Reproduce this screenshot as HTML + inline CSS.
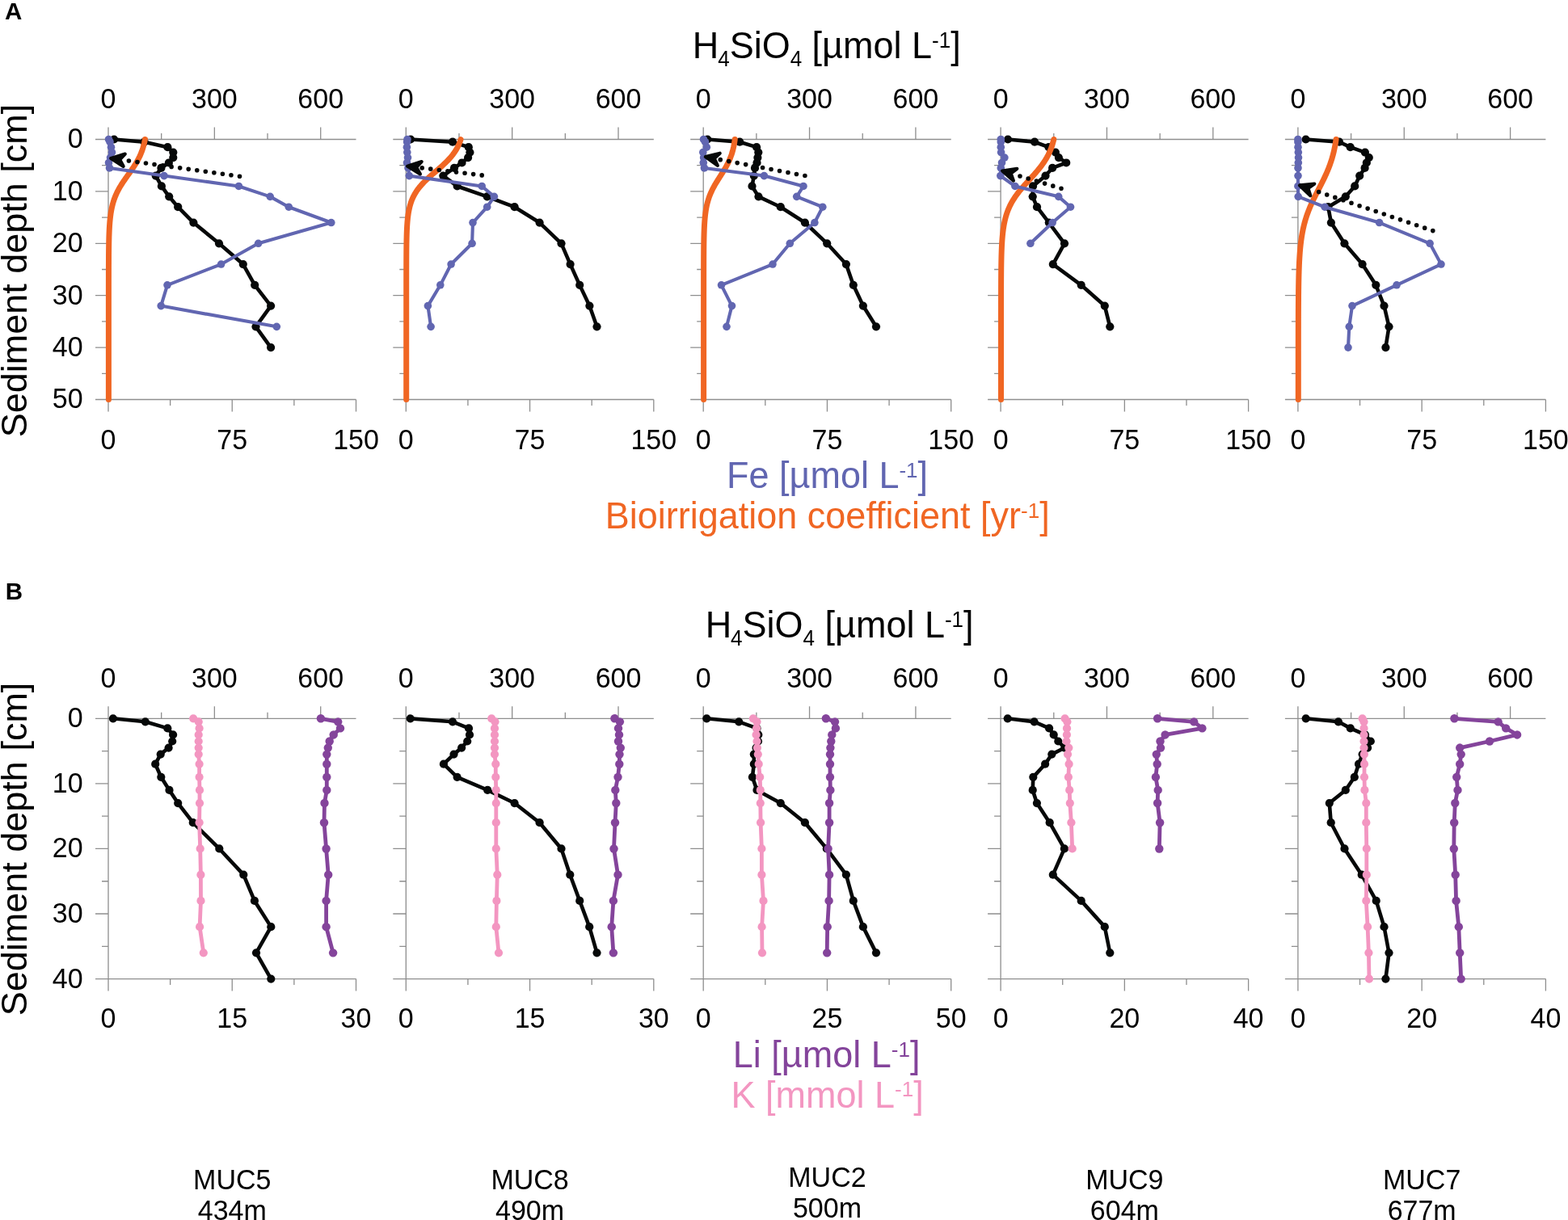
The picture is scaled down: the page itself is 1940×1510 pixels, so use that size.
<!DOCTYPE html>
<html><head><meta charset="utf-8"><title>Figure</title>
<style>html,body{margin:0;padding:0;background:#fff;width:1940px;height:1510px;overflow:hidden}svg{display:block}</style>
</head><body><svg width="1940" height="1510" viewBox="0 0 1940 1510" font-family="'Liberation Sans', Arial, sans-serif"><rect width="1940" height="1510" fill="#fff"/><text transform="translate(6 24) scale(1 1.03)" font-size="29.5" font-weight="bold">A</text><text transform="translate(6.7 742.4) scale(1 1.03)" font-size="29.5" font-weight="bold">B</text><text transform="translate(856.8 72.2) scale(1 1.04)" font-size="45">H<tspan font-size="26" dx="-1.1" dy="9.7">4</tspan><tspan dy="-9.7">SiO</tspan><tspan font-size="26" dy="9.7">4</tspan><tspan dy="-9.7"> [µmol L</tspan><tspan font-size="26" dy="-13.1">-1</tspan><tspan dy="13.1">]</tspan></text><text transform="translate(872.7 789.4) scale(1 1.04)" font-size="45">H<tspan font-size="26" dx="-1.1" dy="9.7">4</tspan><tspan dy="-9.7">SiO</tspan><tspan font-size="26" dy="9.7">4</tspan><tspan dy="-9.7"> [µmol L</tspan><tspan font-size="26" dy="-13.1">-1</tspan><tspan dy="13.1">]</tspan></text><text transform="translate(899 604.2) scale(1 1.015)" font-size="45" fill="#6166b1">Fe [µmol L<tspan font-size="26" dy="-13.1">-1</tspan><tspan dy="13.1">]</tspan></text><text transform="translate(748.8 654.1) scale(1 1.015)" font-size="45" fill="#f06623">Bioirrigation coefficient [yr<tspan font-size="26" dy="-13.1">-1</tspan><tspan dy="13.1">]</tspan></text><text transform="translate(906.8 1321.4) scale(1 1.015)" font-size="45" fill="#84449b">Li [µmol L<tspan font-size="26" dy="-13.1">-1</tspan><tspan dy="13.1">]</tspan></text><text transform="translate(904.5 1370.5) scale(1 1.015)" font-size="45" fill="#f396c1">K [mmol L<tspan font-size="26" dy="-13.1">-1</tspan><tspan dy="13.1">]</tspan></text><text transform="translate(33.2 335) rotate(-90) scale(1 0.99)" font-size="45" text-anchor="middle">Sediment depth [cm]</text><text transform="translate(33.2 1050.95) rotate(-90) scale(1 0.99)" font-size="45" text-anchor="middle">Sediment depth [cm]</text><path d="M118 172.5H440.5M118 494.5H440.5M134 172.5V494.5" stroke="#8e8e8e" stroke-width="1.3" fill="none"/><path d="M134 172.5V157.5M199.68 172.5V165M265.36 172.5V157.5M331.04 172.5V165M396.71 172.5V157.5M134 494.5V509.5M210.62 494.5V502M287.25 494.5V509.5M363.88 494.5V502M440.5 494.5V509.5M126 204.7H134M118 236.9H134M126 269.1H134M118 301.3H134M126 333.5H134M118 365.7H134M126 397.9H134M118 430.1H134M126 462.3H134" stroke="#8e8e8e" stroke-width="1.3" fill="none"/><text transform="translate(134 134.2) scale(1 1.03)" font-size="34" text-anchor="middle">0</text><text transform="translate(134 850.9) scale(1 1.03)" font-size="34" text-anchor="middle">0</text><text transform="translate(265.36 134.2) scale(1 1.03)" font-size="34" text-anchor="middle">300</text><text transform="translate(265.36 850.9) scale(1 1.03)" font-size="34" text-anchor="middle">300</text><text transform="translate(396.71 134.2) scale(1 1.03)" font-size="34" text-anchor="middle">600</text><text transform="translate(396.71 850.9) scale(1 1.03)" font-size="34" text-anchor="middle">600</text><text transform="translate(134 555.5) scale(1 1.03)" font-size="34" text-anchor="middle">0</text><text transform="translate(287.25 555.5) scale(1 1.03)" font-size="34" text-anchor="middle">75</text><text transform="translate(440.5 555.5) scale(1 1.03)" font-size="34" text-anchor="middle">150</text><text transform="translate(134 1272) scale(1 1.03)" font-size="34" text-anchor="middle">0</text><text transform="translate(287.25 1272) scale(1 1.03)" font-size="34" text-anchor="middle">15</text><text transform="translate(440.5 1272) scale(1 1.03)" font-size="34" text-anchor="middle">30</text><path d="M118 889.3H440.5M118 1211.6H440.5M134 889.3V1211.6" stroke="#8e8e8e" stroke-width="1.3" fill="none"/><path d="M134 889.3V874.3M199.68 889.3V881.8M265.36 889.3V874.3M331.04 889.3V881.8M396.71 889.3V874.3M134 1211.6V1226.6M210.62 1211.6V1219.1M287.25 1211.6V1226.6M363.88 1211.6V1219.1M440.5 1211.6V1226.6M126 929.59H134M118 969.88H134M126 1010.16H134M118 1050.45H134M126 1090.74H134M118 1131.02H134M126 1171.31H134" stroke="#8e8e8e" stroke-width="1.3" fill="none"/><path d="M486.3 172.5H808.8M486.3 494.5H808.8M502.3 172.5V494.5" stroke="#8e8e8e" stroke-width="1.3" fill="none"/><path d="M502.3 172.5V157.5M567.98 172.5V165M633.66 172.5V157.5M699.34 172.5V165M765.01 172.5V157.5M502.3 494.5V509.5M578.92 494.5V502M655.55 494.5V509.5M732.17 494.5V502M808.8 494.5V509.5M494.3 204.7H502.3M486.3 236.9H502.3M494.3 269.1H502.3M486.3 301.3H502.3M494.3 333.5H502.3M486.3 365.7H502.3M494.3 397.9H502.3M486.3 430.1H502.3M494.3 462.3H502.3" stroke="#8e8e8e" stroke-width="1.3" fill="none"/><text transform="translate(502.3 134.2) scale(1 1.03)" font-size="34" text-anchor="middle">0</text><text transform="translate(502.3 850.9) scale(1 1.03)" font-size="34" text-anchor="middle">0</text><text transform="translate(633.66 134.2) scale(1 1.03)" font-size="34" text-anchor="middle">300</text><text transform="translate(633.66 850.9) scale(1 1.03)" font-size="34" text-anchor="middle">300</text><text transform="translate(765.01 134.2) scale(1 1.03)" font-size="34" text-anchor="middle">600</text><text transform="translate(765.01 850.9) scale(1 1.03)" font-size="34" text-anchor="middle">600</text><text transform="translate(502.3 555.5) scale(1 1.03)" font-size="34" text-anchor="middle">0</text><text transform="translate(655.55 555.5) scale(1 1.03)" font-size="34" text-anchor="middle">75</text><text transform="translate(808.8 555.5) scale(1 1.03)" font-size="34" text-anchor="middle">150</text><text transform="translate(502.3 1272) scale(1 1.03)" font-size="34" text-anchor="middle">0</text><text transform="translate(655.55 1272) scale(1 1.03)" font-size="34" text-anchor="middle">15</text><text transform="translate(808.8 1272) scale(1 1.03)" font-size="34" text-anchor="middle">30</text><path d="M486.3 889.3H808.8M486.3 1211.6H808.8M502.3 889.3V1211.6" stroke="#8e8e8e" stroke-width="1.3" fill="none"/><path d="M502.3 889.3V874.3M567.98 889.3V881.8M633.66 889.3V874.3M699.34 889.3V881.8M765.01 889.3V874.3M502.3 1211.6V1226.6M578.92 1211.6V1219.1M655.55 1211.6V1226.6M732.17 1211.6V1219.1M808.8 1211.6V1226.6M494.3 929.59H502.3M486.3 969.88H502.3M494.3 1010.16H502.3M486.3 1050.45H502.3M494.3 1090.74H502.3M486.3 1131.02H502.3M494.3 1171.31H502.3" stroke="#8e8e8e" stroke-width="1.3" fill="none"/><path d="M854.2 172.5H1176.7M854.2 494.5H1176.7M870.2 172.5V494.5" stroke="#8e8e8e" stroke-width="1.3" fill="none"/><path d="M870.2 172.5V157.5M935.88 172.5V165M1001.56 172.5V157.5M1067.24 172.5V165M1132.91 172.5V157.5M870.2 494.5V509.5M946.83 494.5V502M1023.45 494.5V509.5M1100.08 494.5V502M1176.7 494.5V509.5M862.2 204.7H870.2M854.2 236.9H870.2M862.2 269.1H870.2M854.2 301.3H870.2M862.2 333.5H870.2M854.2 365.7H870.2M862.2 397.9H870.2M854.2 430.1H870.2M862.2 462.3H870.2" stroke="#8e8e8e" stroke-width="1.3" fill="none"/><text transform="translate(870.2 134.2) scale(1 1.03)" font-size="34" text-anchor="middle">0</text><text transform="translate(870.2 850.9) scale(1 1.03)" font-size="34" text-anchor="middle">0</text><text transform="translate(1001.56 134.2) scale(1 1.03)" font-size="34" text-anchor="middle">300</text><text transform="translate(1001.56 850.9) scale(1 1.03)" font-size="34" text-anchor="middle">300</text><text transform="translate(1132.91 134.2) scale(1 1.03)" font-size="34" text-anchor="middle">600</text><text transform="translate(1132.91 850.9) scale(1 1.03)" font-size="34" text-anchor="middle">600</text><text transform="translate(870.2 555.5) scale(1 1.03)" font-size="34" text-anchor="middle">0</text><text transform="translate(1023.45 555.5) scale(1 1.03)" font-size="34" text-anchor="middle">75</text><text transform="translate(1176.7 555.5) scale(1 1.03)" font-size="34" text-anchor="middle">150</text><text transform="translate(870.2 1272) scale(1 1.03)" font-size="34" text-anchor="middle">0</text><text transform="translate(1023.45 1272) scale(1 1.03)" font-size="34" text-anchor="middle">25</text><text transform="translate(1176.7 1272) scale(1 1.03)" font-size="34" text-anchor="middle">50</text><path d="M854.2 889.3H1176.7M854.2 1211.6H1176.7M870.2 889.3V1211.6" stroke="#8e8e8e" stroke-width="1.3" fill="none"/><path d="M870.2 889.3V874.3M935.88 889.3V881.8M1001.56 889.3V874.3M1067.24 889.3V881.8M1132.91 889.3V874.3M870.2 1211.6V1226.6M946.83 1211.6V1219.1M1023.45 1211.6V1226.6M1100.08 1211.6V1219.1M1176.7 1211.6V1226.6M862.2 929.59H870.2M854.2 969.88H870.2M862.2 1010.16H870.2M854.2 1050.45H870.2M862.2 1090.74H870.2M854.2 1131.02H870.2M862.2 1171.31H870.2" stroke="#8e8e8e" stroke-width="1.3" fill="none"/><path d="M1222.1 172.5H1544.6M1222.1 494.5H1544.6M1238.1 172.5V494.5" stroke="#8e8e8e" stroke-width="1.3" fill="none"/><path d="M1238.1 172.5V157.5M1303.78 172.5V165M1369.46 172.5V157.5M1435.14 172.5V165M1500.81 172.5V157.5M1238.1 494.5V509.5M1314.72 494.5V502M1391.35 494.5V509.5M1467.97 494.5V502M1544.6 494.5V509.5M1230.1 204.7H1238.1M1222.1 236.9H1238.1M1230.1 269.1H1238.1M1222.1 301.3H1238.1M1230.1 333.5H1238.1M1222.1 365.7H1238.1M1230.1 397.9H1238.1M1222.1 430.1H1238.1M1230.1 462.3H1238.1" stroke="#8e8e8e" stroke-width="1.3" fill="none"/><text transform="translate(1238.1 134.2) scale(1 1.03)" font-size="34" text-anchor="middle">0</text><text transform="translate(1238.1 850.9) scale(1 1.03)" font-size="34" text-anchor="middle">0</text><text transform="translate(1369.46 134.2) scale(1 1.03)" font-size="34" text-anchor="middle">300</text><text transform="translate(1369.46 850.9) scale(1 1.03)" font-size="34" text-anchor="middle">300</text><text transform="translate(1500.81 134.2) scale(1 1.03)" font-size="34" text-anchor="middle">600</text><text transform="translate(1500.81 850.9) scale(1 1.03)" font-size="34" text-anchor="middle">600</text><text transform="translate(1238.1 555.5) scale(1 1.03)" font-size="34" text-anchor="middle">0</text><text transform="translate(1391.35 555.5) scale(1 1.03)" font-size="34" text-anchor="middle">75</text><text transform="translate(1544.6 555.5) scale(1 1.03)" font-size="34" text-anchor="middle">150</text><text transform="translate(1238.1 1272) scale(1 1.03)" font-size="34" text-anchor="middle">0</text><text transform="translate(1391.35 1272) scale(1 1.03)" font-size="34" text-anchor="middle">20</text><text transform="translate(1544.6 1272) scale(1 1.03)" font-size="34" text-anchor="middle">40</text><path d="M1222.1 889.3H1544.6M1222.1 1211.6H1544.6M1238.1 889.3V1211.6" stroke="#8e8e8e" stroke-width="1.3" fill="none"/><path d="M1238.1 889.3V874.3M1303.78 889.3V881.8M1369.46 889.3V874.3M1435.14 889.3V881.8M1500.81 889.3V874.3M1238.1 1211.6V1226.6M1314.72 1211.6V1219.1M1391.35 1211.6V1226.6M1467.97 1211.6V1219.1M1544.6 1211.6V1226.6M1230.1 929.59H1238.1M1222.1 969.88H1238.1M1230.1 1010.16H1238.1M1222.1 1050.45H1238.1M1230.1 1090.74H1238.1M1222.1 1131.02H1238.1M1230.1 1171.31H1238.1" stroke="#8e8e8e" stroke-width="1.3" fill="none"/><path d="M1589.9 172.5H1912.4M1589.9 494.5H1912.4M1605.9 172.5V494.5" stroke="#8e8e8e" stroke-width="1.3" fill="none"/><path d="M1605.9 172.5V157.5M1671.58 172.5V165M1737.26 172.5V157.5M1802.94 172.5V165M1868.61 172.5V157.5M1605.9 494.5V509.5M1682.53 494.5V502M1759.15 494.5V509.5M1835.78 494.5V502M1912.4 494.5V509.5M1597.9 204.7H1605.9M1589.9 236.9H1605.9M1597.9 269.1H1605.9M1589.9 301.3H1605.9M1597.9 333.5H1605.9M1589.9 365.7H1605.9M1597.9 397.9H1605.9M1589.9 430.1H1605.9M1597.9 462.3H1605.9" stroke="#8e8e8e" stroke-width="1.3" fill="none"/><text transform="translate(1605.9 134.2) scale(1 1.03)" font-size="34" text-anchor="middle">0</text><text transform="translate(1605.9 850.9) scale(1 1.03)" font-size="34" text-anchor="middle">0</text><text transform="translate(1737.26 134.2) scale(1 1.03)" font-size="34" text-anchor="middle">300</text><text transform="translate(1737.26 850.9) scale(1 1.03)" font-size="34" text-anchor="middle">300</text><text transform="translate(1868.61 134.2) scale(1 1.03)" font-size="34" text-anchor="middle">600</text><text transform="translate(1868.61 850.9) scale(1 1.03)" font-size="34" text-anchor="middle">600</text><text transform="translate(1605.9 555.5) scale(1 1.03)" font-size="34" text-anchor="middle">0</text><text transform="translate(1759.15 555.5) scale(1 1.03)" font-size="34" text-anchor="middle">75</text><text transform="translate(1912.4 555.5) scale(1 1.03)" font-size="34" text-anchor="middle">150</text><text transform="translate(1605.9 1272) scale(1 1.03)" font-size="34" text-anchor="middle">0</text><text transform="translate(1759.15 1272) scale(1 1.03)" font-size="34" text-anchor="middle">20</text><text transform="translate(1912.4 1272) scale(1 1.03)" font-size="34" text-anchor="middle">40</text><path d="M1589.9 889.3H1912.4M1589.9 1211.6H1912.4M1605.9 889.3V1211.6" stroke="#8e8e8e" stroke-width="1.3" fill="none"/><path d="M1605.9 889.3V874.3M1671.58 889.3V881.8M1737.26 889.3V874.3M1802.94 889.3V881.8M1868.61 889.3V874.3M1605.9 1211.6V1226.6M1682.53 1211.6V1219.1M1759.15 1211.6V1226.6M1835.78 1211.6V1219.1M1912.4 1211.6V1226.6M1597.9 929.59H1605.9M1589.9 969.88H1605.9M1597.9 1010.16H1605.9M1589.9 1050.45H1605.9M1597.9 1090.74H1605.9M1589.9 1131.02H1605.9M1597.9 1171.31H1605.9" stroke="#8e8e8e" stroke-width="1.3" fill="none"/><text transform="translate(102.6 183.4) scale(1 1.03)" font-size="34" text-anchor="end">0</text><text transform="translate(102.6 247.8) scale(1 1.03)" font-size="34" text-anchor="end">10</text><text transform="translate(102.6 312.2) scale(1 1.03)" font-size="34" text-anchor="end">20</text><text transform="translate(102.6 376.6) scale(1 1.03)" font-size="34" text-anchor="end">30</text><text transform="translate(102.6 441) scale(1 1.03)" font-size="34" text-anchor="end">40</text><text transform="translate(102.6 505.4) scale(1 1.03)" font-size="34" text-anchor="end">50</text><text transform="translate(102.6 900.2) scale(1 1.03)" font-size="34" text-anchor="end">0</text><text transform="translate(102.6 980.77) scale(1 1.03)" font-size="34" text-anchor="end">10</text><text transform="translate(102.6 1061.35) scale(1 1.03)" font-size="34" text-anchor="end">20</text><text transform="translate(102.6 1141.92) scale(1 1.03)" font-size="34" text-anchor="end">30</text><text transform="translate(102.6 1222.5) scale(1 1.03)" font-size="34" text-anchor="end">40</text><path d="M141.1 172.5L178.6 175.72L207.4 182.16L214.3 188.6L214.3 195.04L208.9 201.48L199.4 207.92L192.7 217.58L199.9 230.46L209.2 243.34L220.2 256.22L239.4 275.54L271 301.3L300.8 327.06L315.2 352.82L335.1 378.58L316.5 404.34L335.1 430.1" stroke="#060808" stroke-width="4.6" fill="none" stroke-linejoin="round" stroke-linecap="round"/><g fill="#060808"><circle cx="141.1" cy="172.5" r="5.1"/><circle cx="178.6" cy="175.72" r="5.1"/><circle cx="207.4" cy="182.16" r="5.1"/><circle cx="214.3" cy="188.6" r="5.1"/><circle cx="214.3" cy="195.04" r="5.1"/><circle cx="208.9" cy="201.48" r="5.1"/><circle cx="199.4" cy="207.92" r="5.1"/><circle cx="192.7" cy="217.58" r="5.1"/><circle cx="199.9" cy="230.46" r="5.1"/><circle cx="209.2" cy="243.34" r="5.1"/><circle cx="220.2" cy="256.22" r="5.1"/><circle cx="239.4" cy="275.54" r="5.1"/><circle cx="271" cy="301.3" r="5.1"/><circle cx="300.8" cy="327.06" r="5.1"/><circle cx="315.2" cy="352.82" r="5.1"/><circle cx="335.1" cy="378.58" r="5.1"/><circle cx="316.5" cy="404.34" r="5.1"/><circle cx="335.1" cy="430.1" r="5.1"/></g><path d="M508 172.5L560 175.72L579.8 182.16L581.4 188.6L579.1 195.04L571.5 201.48L562 207.92L548.3 217.58L565.7 230.46L602.7 243.34L636.6 256.22L667.6 275.54L694.5 301.3L705.6 327.06L717.2 352.82L729.4 378.58L738.5 404.34" stroke="#060808" stroke-width="4.6" fill="none" stroke-linejoin="round" stroke-linecap="round"/><g fill="#060808"><circle cx="508" cy="172.5" r="5.1"/><circle cx="560" cy="175.72" r="5.1"/><circle cx="579.8" cy="182.16" r="5.1"/><circle cx="581.4" cy="188.6" r="5.1"/><circle cx="579.1" cy="195.04" r="5.1"/><circle cx="571.5" cy="201.48" r="5.1"/><circle cx="562" cy="207.92" r="5.1"/><circle cx="548.3" cy="217.58" r="5.1"/><circle cx="565.7" cy="230.46" r="5.1"/><circle cx="602.7" cy="243.34" r="5.1"/><circle cx="636.6" cy="256.22" r="5.1"/><circle cx="667.6" cy="275.54" r="5.1"/><circle cx="694.5" cy="301.3" r="5.1"/><circle cx="705.6" cy="327.06" r="5.1"/><circle cx="717.2" cy="352.82" r="5.1"/><circle cx="729.4" cy="378.58" r="5.1"/><circle cx="738.5" cy="404.34" r="5.1"/></g><path d="M875.3 172.5L915.2 175.72L936.1 182.16L938.3 188.6L937.4 195.04L936.5 201.48L934 207.92L932.8 217.58L930.5 230.46L938.5 243.34L965.8 256.22L995.9 275.54L1023.2 301.3L1046.9 327.06L1055.8 352.82L1067.9 378.58L1084 404.34" stroke="#060808" stroke-width="4.6" fill="none" stroke-linejoin="round" stroke-linecap="round"/><g fill="#060808"><circle cx="875.3" cy="172.5" r="5.1"/><circle cx="915.2" cy="175.72" r="5.1"/><circle cx="936.1" cy="182.16" r="5.1"/><circle cx="938.3" cy="188.6" r="5.1"/><circle cx="937.4" cy="195.04" r="5.1"/><circle cx="936.5" cy="201.48" r="5.1"/><circle cx="934" cy="207.92" r="5.1"/><circle cx="932.8" cy="217.58" r="5.1"/><circle cx="930.5" cy="230.46" r="5.1"/><circle cx="938.5" cy="243.34" r="5.1"/><circle cx="965.8" cy="256.22" r="5.1"/><circle cx="995.9" cy="275.54" r="5.1"/><circle cx="1023.2" cy="301.3" r="5.1"/><circle cx="1046.9" cy="327.06" r="5.1"/><circle cx="1055.8" cy="352.82" r="5.1"/><circle cx="1067.9" cy="378.58" r="5.1"/><circle cx="1084" cy="404.34" r="5.1"/></g><path d="M1247 172.5L1280.1 175.72L1297.5 182.16L1305.9 188.6L1309.9 195.04L1319.2 201.48L1302.1 207.92L1293.5 217.58L1278 230.46L1277.7 243.34L1283 256.22L1297.8 275.54L1317 301.3L1302.8 327.06L1337.7 352.82L1366.8 378.58L1373.3 404.34" stroke="#060808" stroke-width="4.6" fill="none" stroke-linejoin="round" stroke-linecap="round"/><g fill="#060808"><circle cx="1247" cy="172.5" r="5.1"/><circle cx="1280.1" cy="175.72" r="5.1"/><circle cx="1297.5" cy="182.16" r="5.1"/><circle cx="1305.9" cy="188.6" r="5.1"/><circle cx="1309.9" cy="195.04" r="5.1"/><circle cx="1319.2" cy="201.48" r="5.1"/><circle cx="1302.1" cy="207.92" r="5.1"/><circle cx="1293.5" cy="217.58" r="5.1"/><circle cx="1278" cy="230.46" r="5.1"/><circle cx="1277.7" cy="243.34" r="5.1"/><circle cx="1283" cy="256.22" r="5.1"/><circle cx="1297.8" cy="275.54" r="5.1"/><circle cx="1317" cy="301.3" r="5.1"/><circle cx="1302.8" cy="327.06" r="5.1"/><circle cx="1337.7" cy="352.82" r="5.1"/><circle cx="1366.8" cy="378.58" r="5.1"/><circle cx="1373.3" cy="404.34" r="5.1"/></g><path d="M1615.6 172.5L1657 175.72L1670.7 182.16L1688.9 188.6L1693.8 195.04L1690.8 201.48L1688.6 207.92L1682.2 217.58L1676.2 230.46L1664.8 243.34L1643.3 256.22L1646.9 275.54L1663.4 301.3L1685.6 327.06L1702.3 352.82L1712.5 378.58L1718.5 404.34L1714.4 430.1" stroke="#060808" stroke-width="4.6" fill="none" stroke-linejoin="round" stroke-linecap="round"/><g fill="#060808"><circle cx="1615.6" cy="172.5" r="5.1"/><circle cx="1657" cy="175.72" r="5.1"/><circle cx="1670.7" cy="182.16" r="5.1"/><circle cx="1688.9" cy="188.6" r="5.1"/><circle cx="1693.8" cy="195.04" r="5.1"/><circle cx="1690.8" cy="201.48" r="5.1"/><circle cx="1688.6" cy="207.92" r="5.1"/><circle cx="1682.2" cy="217.58" r="5.1"/><circle cx="1676.2" cy="230.46" r="5.1"/><circle cx="1664.8" cy="243.34" r="5.1"/><circle cx="1643.3" cy="256.22" r="5.1"/><circle cx="1646.9" cy="275.54" r="5.1"/><circle cx="1663.4" cy="301.3" r="5.1"/><circle cx="1685.6" cy="327.06" r="5.1"/><circle cx="1702.3" cy="352.82" r="5.1"/><circle cx="1712.5" cy="378.58" r="5.1"/><circle cx="1718.5" cy="404.34" r="5.1"/><circle cx="1714.4" cy="430.1" r="5.1"/></g><path d="M179.44 172.50L179.13 174.11L178.79 175.72L178.43 177.33L178.03 178.94L177.60 180.55L177.14 182.16L176.65 183.77L176.12 185.38L175.55 186.99L174.94 188.60L174.29 190.21L173.60 191.82L172.87 193.43L172.09 195.04L171.28 196.65L170.42 198.26L169.52 199.87L168.58 201.48L167.61 203.09L166.59 204.70L165.55 206.31L164.48 207.92L163.38 209.53L162.26 211.14L161.13 212.75L159.98 214.36L158.83 215.97L157.68 217.58L156.53 219.19L155.39 220.80L154.27 222.41L153.16 224.02L152.08 225.63L151.02 227.24L150.00 228.85L149.01 230.46L148.06 232.07L147.14 233.68L146.27 235.29L145.43 236.90L144.64 238.51L143.90 240.12L143.19 241.73L142.52 243.34L141.90 244.95L141.32 246.56L140.77 248.17L140.26 249.78L139.79 251.39L139.35 253.00L138.94 254.61L138.56 256.22L138.22 257.83L137.89 259.44L137.60 261.05L137.32 262.66L137.07 264.27L136.84 265.88L136.63 267.49L136.44 269.10L136.26 270.71L136.10 272.32L135.95 273.93L135.81 275.54L135.69 277.15L135.57 278.76L135.47 280.37L135.37 281.98L135.29 283.59L135.21 285.20L135.13 286.81L135.07 288.42L135.01 290.03L134.95 291.64L134.90 293.25L134.86 294.86L134.82 296.47L134.78 298.08L134.75 299.69L134.71 301.30L134.69 302.91L134.66 304.52L134.64 306.13L134.62 307.74L134.60 309.35L134.58 310.96L134.56 312.57L134.55 314.18L134.53 315.79L134.52 317.40L134.51 319.01L134.50 320.62L134.49 322.23L134.48 323.84L134.48 325.45L134.47 327.06L134.46 328.67L134.46 330.28L134.45 331.89L134.45 333.50L134.44 335.11L134.44 336.72L134.44 338.33L134.43 339.94L134.43 341.55L134.43 343.16L134.42 344.77L134.42 346.38L134.42 347.99L134.42 349.60L134.42 351.21L134.41 352.82L134.41 354.43L134.41 356.04L134.41 357.65L134.41 359.26L134.41 360.87L134.41 362.48L134.41 364.09L134.41 365.70L134.41 367.31L134.41 368.92L134.41 370.53L134.40 372.14L134.40 373.75L134.40 375.36L134.40 376.97L134.40 378.58L134.40 380.19L134.40 381.80L134.40 383.41L134.40 385.02L134.40 386.63L134.40 388.24L134.40 389.85L134.40 391.46L134.40 393.07L134.40 394.68L134.40 396.29L134.40 397.90L134.40 399.51L134.40 401.12L134.40 402.73L134.40 404.34L134.40 405.95L134.40 407.56L134.40 409.17L134.40 410.78L134.40 412.39L134.40 414.00L134.40 415.61L134.40 417.22L134.40 418.83L134.40 420.44L134.40 422.05L134.40 423.66L134.40 425.27L134.40 426.88L134.40 428.49L134.40 430.10L134.40 431.71L134.40 433.32L134.40 434.93L134.40 436.54L134.40 438.15L134.40 439.76L134.40 441.37L134.40 442.98L134.40 444.59L134.40 446.20L134.40 447.81L134.40 449.42L134.40 451.03L134.40 452.64L134.40 454.25L134.40 455.86L134.40 457.47L134.40 459.08L134.40 460.69L134.40 462.30L134.40 463.91L134.40 465.52L134.40 467.13L134.40 468.74L134.40 470.35L134.40 471.96L134.40 473.57L134.40 475.18L134.40 476.79L134.40 478.40L134.40 480.01L134.40 481.62L134.40 483.23L134.40 484.84L134.40 486.45L134.40 488.06L134.40 489.67L134.40 491.28L134.40 492.89L134.40 494.50" stroke="#f06623" stroke-width="7" fill="none" stroke-linecap="round" stroke-linejoin="round"/><path d="M570.05 172.50L569.53 174.11L568.95 175.72L568.32 177.33L567.64 178.94L566.91 180.55L566.11 182.16L565.25 183.77L564.32 185.38L563.32 186.99L562.25 188.60L561.11 190.21L559.90 191.82L558.61 193.43L557.25 195.04L555.81 196.65L554.31 198.26L552.74 199.87L551.10 201.48L549.41 203.09L547.67 204.70L545.89 206.31L544.07 207.92L542.23 209.53L540.36 211.14L538.49 212.75L536.63 214.36L534.77 215.97L532.94 217.58L531.14 219.19L529.38 220.80L527.67 222.41L526.01 224.02L524.41 225.63L522.88 227.24L521.41 228.85L520.02 230.46L518.70 232.07L517.45 233.68L516.27 235.29L515.17 236.90L514.15 238.51L513.19 240.12L512.30 241.73L511.47 243.34L510.71 244.95L510.00 246.56L509.35 248.17L508.76 249.78L508.21 251.39L507.71 253.00L507.25 254.61L506.83 256.22L506.45 257.83L506.10 259.44L505.78 261.05L505.49 262.66L505.23 264.27L504.99 265.88L504.77 267.49L504.57 269.10L504.39 270.71L504.23 272.32L504.08 273.93L503.95 275.54L503.83 277.15L503.72 278.76L503.62 280.37L503.53 281.98L503.45 283.59L503.38 285.20L503.31 286.81L503.25 288.42L503.20 290.03L503.15 291.64L503.11 293.25L503.07 294.86L503.03 296.47L503.00 298.08L502.97 299.69L502.94 301.30L502.92 302.91L502.90 304.52L502.88 306.13L502.86 307.74L502.85 309.35L502.83 310.96L502.82 312.57L502.81 314.18L502.80 315.79L502.79 317.40L502.78 319.01L502.77 320.62L502.76 322.23L502.76 323.84L502.75 325.45L502.75 327.06L502.74 328.67L502.74 330.28L502.73 331.89L502.73 333.50L502.73 335.11L502.73 336.72L502.72 338.33L502.72 339.94L502.72 341.55L502.72 343.16L502.72 344.77L502.71 346.38L502.71 347.99L502.71 349.60L502.71 351.21L502.71 352.82L502.71 354.43L502.71 356.04L502.71 357.65L502.71 359.26L502.71 360.87L502.70 362.48L502.70 364.09L502.70 365.70L502.70 367.31L502.70 368.92L502.70 370.53L502.70 372.14L502.70 373.75L502.70 375.36L502.70 376.97L502.70 378.58L502.70 380.19L502.70 381.80L502.70 383.41L502.70 385.02L502.70 386.63L502.70 388.24L502.70 389.85L502.70 391.46L502.70 393.07L502.70 394.68L502.70 396.29L502.70 397.90L502.70 399.51L502.70 401.12L502.70 402.73L502.70 404.34L502.70 405.95L502.70 407.56L502.70 409.17L502.70 410.78L502.70 412.39L502.70 414.00L502.70 415.61L502.70 417.22L502.70 418.83L502.70 420.44L502.70 422.05L502.70 423.66L502.70 425.27L502.70 426.88L502.70 428.49L502.70 430.10L502.70 431.71L502.70 433.32L502.70 434.93L502.70 436.54L502.70 438.15L502.70 439.76L502.70 441.37L502.70 442.98L502.70 444.59L502.70 446.20L502.70 447.81L502.70 449.42L502.70 451.03L502.70 452.64L502.70 454.25L502.70 455.86L502.70 457.47L502.70 459.08L502.70 460.69L502.70 462.30L502.70 463.91L502.70 465.52L502.70 467.13L502.70 468.74L502.70 470.35L502.70 471.96L502.70 473.57L502.70 475.18L502.70 476.79L502.70 478.40L502.70 480.01L502.70 481.62L502.70 483.23L502.70 484.84L502.70 486.45L502.70 488.06L502.70 489.67L502.70 491.28L502.70 492.89L502.70 494.50" stroke="#f06623" stroke-width="7" fill="none" stroke-linecap="round" stroke-linejoin="round"/><path d="M909.23 172.50L909.02 174.11L908.78 175.72L908.52 177.33L908.23 178.94L907.92 180.55L907.59 182.16L907.22 183.77L906.83 185.38L906.40 186.99L905.94 188.60L905.44 190.21L904.91 191.82L904.33 193.43L903.72 195.04L903.07 196.65L902.38 198.26L901.65 199.87L900.88 201.48L900.07 203.09L899.23 204.70L898.35 206.31L897.44 207.92L896.49 209.53L895.52 211.14L894.53 212.75L893.53 214.36L892.51 215.97L891.48 217.58L890.45 219.19L889.42 220.80L888.40 222.41L887.39 224.02L886.40 225.63L885.44 227.24L884.50 228.85L883.59 230.46L882.71 232.07L881.87 233.68L881.06 235.29L880.30 236.90L879.57 238.51L878.88 240.12L878.24 241.73L877.63 243.34L877.06 244.95L876.53 246.56L876.04 248.17L875.58 249.78L875.15 251.39L874.76 253.00L874.40 254.61L874.06 256.22L873.76 257.83L873.47 259.44L873.22 261.05L872.98 262.66L872.76 264.27L872.56 265.88L872.38 267.49L872.22 269.10L872.07 270.71L871.93 272.32L871.81 273.93L871.70 275.54L871.59 277.15L871.50 278.76L871.42 280.37L871.34 281.98L871.27 283.59L871.21 285.20L871.15 286.81L871.10 288.42L871.05 290.03L871.01 291.64L870.97 293.25L870.93 294.86L870.90 296.47L870.87 298.08L870.85 299.69L870.82 301.30L870.80 302.91L870.78 304.52L870.76 306.13L870.75 307.74L870.73 309.35L870.72 310.96L870.71 312.57L870.70 314.18L870.69 315.79L870.68 317.40L870.67 319.01L870.67 320.62L870.66 322.23L870.65 323.84L870.65 325.45L870.64 327.06L870.64 328.67L870.64 330.28L870.63 331.89L870.63 333.50L870.63 335.11L870.62 336.72L870.62 338.33L870.62 339.94L870.62 341.55L870.62 343.16L870.61 344.77L870.61 346.38L870.61 347.99L870.61 349.60L870.61 351.21L870.61 352.82L870.61 354.43L870.61 356.04L870.61 357.65L870.61 359.26L870.61 360.87L870.60 362.48L870.60 364.09L870.60 365.70L870.60 367.31L870.60 368.92L870.60 370.53L870.60 372.14L870.60 373.75L870.60 375.36L870.60 376.97L870.60 378.58L870.60 380.19L870.60 381.80L870.60 383.41L870.60 385.02L870.60 386.63L870.60 388.24L870.60 389.85L870.60 391.46L870.60 393.07L870.60 394.68L870.60 396.29L870.60 397.90L870.60 399.51L870.60 401.12L870.60 402.73L870.60 404.34L870.60 405.95L870.60 407.56L870.60 409.17L870.60 410.78L870.60 412.39L870.60 414.00L870.60 415.61L870.60 417.22L870.60 418.83L870.60 420.44L870.60 422.05L870.60 423.66L870.60 425.27L870.60 426.88L870.60 428.49L870.60 430.10L870.60 431.71L870.60 433.32L870.60 434.93L870.60 436.54L870.60 438.15L870.60 439.76L870.60 441.37L870.60 442.98L870.60 444.59L870.60 446.20L870.60 447.81L870.60 449.42L870.60 451.03L870.60 452.64L870.60 454.25L870.60 455.86L870.60 457.47L870.60 459.08L870.60 460.69L870.60 462.30L870.60 463.91L870.60 465.52L870.60 467.13L870.60 468.74L870.60 470.35L870.60 471.96L870.60 473.57L870.60 475.18L870.60 476.79L870.60 478.40L870.60 480.01L870.60 481.62L870.60 483.23L870.60 484.84L870.60 486.45L870.60 488.06L870.60 489.67L870.60 491.28L870.60 492.89L870.60 494.50" stroke="#f06623" stroke-width="7" fill="none" stroke-linecap="round" stroke-linejoin="round"/><path d="M1303.79 172.50L1303.40 174.11L1302.98 175.72L1302.54 177.33L1302.06 178.94L1301.54 180.55L1300.99 182.16L1300.41 183.77L1299.78 185.38L1299.11 186.99L1298.41 188.60L1297.65 190.21L1296.86 191.82L1296.01 193.43L1295.13 195.04L1294.19 196.65L1293.20 198.26L1292.17 199.87L1291.09 201.48L1289.97 203.09L1288.80 204.70L1287.59 206.31L1286.33 207.92L1285.04 209.53L1283.71 211.14L1282.34 212.75L1280.95 214.36L1279.53 215.97L1278.10 217.58L1276.64 219.19L1275.18 220.80L1273.71 222.41L1272.24 224.02L1270.77 225.63L1269.32 227.24L1267.87 228.85L1266.45 230.46L1265.05 232.07L1263.68 233.68L1262.35 235.29L1261.04 236.90L1259.78 238.51L1258.55 240.12L1257.37 241.73L1256.24 243.34L1255.15 244.95L1254.11 246.56L1253.11 248.17L1252.16 249.78L1251.26 251.39L1250.41 253.00L1249.60 254.61L1248.84 256.22L1248.12 257.83L1247.45 259.44L1246.81 261.05L1246.22 262.66L1245.66 264.27L1245.14 265.88L1244.65 267.49L1244.19 269.10L1243.77 270.71L1243.37 272.32L1243.01 273.93L1242.67 275.54L1242.35 277.15L1242.05 278.76L1241.78 280.37L1241.53 281.98L1241.29 283.59L1241.08 285.20L1240.88 286.81L1240.69 288.42L1240.52 290.03L1240.36 291.64L1240.22 293.25L1240.08 294.86L1239.96 296.47L1239.84 298.08L1239.73 299.69L1239.64 301.30L1239.55 302.91L1239.46 304.52L1239.39 306.13L1239.32 307.74L1239.25 309.35L1239.19 310.96L1239.14 312.57L1239.09 314.18L1239.04 315.79L1239.00 317.40L1238.96 319.01L1238.92 320.62L1238.89 322.23L1238.85 323.84L1238.83 325.45L1238.80 327.06L1238.78 328.67L1238.75 330.28L1238.73 331.89L1238.71 333.50L1238.70 335.11L1238.68 336.72L1238.67 338.33L1238.65 339.94L1238.64 341.55L1238.63 343.16L1238.62 344.77L1238.61 346.38L1238.60 347.99L1238.59 349.60L1238.59 351.21L1238.58 352.82L1238.57 354.43L1238.57 356.04L1238.56 357.65L1238.56 359.26L1238.55 360.87L1238.55 362.48L1238.54 364.09L1238.54 365.70L1238.54 367.31L1238.53 368.92L1238.53 370.53L1238.53 372.14L1238.53 373.75L1238.52 375.36L1238.52 376.97L1238.52 378.58L1238.52 380.19L1238.52 381.80L1238.52 383.41L1238.51 385.02L1238.51 386.63L1238.51 388.24L1238.51 389.85L1238.51 391.46L1238.51 393.07L1238.51 394.68L1238.51 396.29L1238.51 397.90L1238.51 399.51L1238.51 401.12L1238.51 402.73L1238.51 404.34L1238.50 405.95L1238.50 407.56L1238.50 409.17L1238.50 410.78L1238.50 412.39L1238.50 414.00L1238.50 415.61L1238.50 417.22L1238.50 418.83L1238.50 420.44L1238.50 422.05L1238.50 423.66L1238.50 425.27L1238.50 426.88L1238.50 428.49L1238.50 430.10L1238.50 431.71L1238.50 433.32L1238.50 434.93L1238.50 436.54L1238.50 438.15L1238.50 439.76L1238.50 441.37L1238.50 442.98L1238.50 444.59L1238.50 446.20L1238.50 447.81L1238.50 449.42L1238.50 451.03L1238.50 452.64L1238.50 454.25L1238.50 455.86L1238.50 457.47L1238.50 459.08L1238.50 460.69L1238.50 462.30L1238.50 463.91L1238.50 465.52L1238.50 467.13L1238.50 468.74L1238.50 470.35L1238.50 471.96L1238.50 473.57L1238.50 475.18L1238.50 476.79L1238.50 478.40L1238.50 480.01L1238.50 481.62L1238.50 483.23L1238.50 484.84L1238.50 486.45L1238.50 488.06L1238.50 489.67L1238.50 491.28L1238.50 492.89L1238.50 494.50" stroke="#f06623" stroke-width="7" fill="none" stroke-linecap="round" stroke-linejoin="round"/><path d="M1653.07 172.50L1652.83 174.11L1652.58 175.72L1652.32 177.33L1652.04 178.94L1651.74 180.55L1651.43 182.16L1651.10 183.77L1650.76 185.38L1650.40 186.99L1650.02 188.60L1649.62 190.21L1649.20 191.82L1648.77 193.43L1648.31 195.04L1647.83 196.65L1647.33 198.26L1646.81 199.87L1646.27 201.48L1645.71 203.09L1645.13 204.70L1644.53 206.31L1643.91 207.92L1643.26 209.53L1642.60 211.14L1641.92 212.75L1641.22 214.36L1640.50 215.97L1639.76 217.58L1639.01 219.19L1638.25 220.80L1637.47 222.41L1636.68 224.02L1635.88 225.63L1635.06 227.24L1634.25 228.85L1633.42 230.46L1632.60 232.07L1631.77 233.68L1630.94 235.29L1630.11 236.90L1629.28 238.51L1628.46 240.12L1627.65 241.73L1626.84 243.34L1626.05 244.95L1625.26 246.56L1624.49 248.17L1623.73 249.78L1622.99 251.39L1622.26 253.00L1621.55 254.61L1620.86 256.22L1620.19 257.83L1619.54 259.44L1618.91 261.05L1618.30 262.66L1617.71 264.27L1617.14 265.88L1616.59 267.49L1616.06 269.10L1615.55 270.71L1615.07 272.32L1614.60 273.93L1614.16 275.54L1613.73 277.15L1613.32 278.76L1612.94 280.37L1612.57 281.98L1612.22 283.59L1611.88 285.20L1611.56 286.81L1611.26 288.42L1610.97 290.03L1610.70 291.64L1610.45 293.25L1610.20 294.86L1609.97 296.47L1609.76 298.08L1609.55 299.69L1609.36 301.30L1609.17 302.91L1609.00 304.52L1608.84 306.13L1608.68 307.74L1608.54 309.35L1608.40 310.96L1608.27 312.57L1608.15 314.18L1608.04 315.79L1607.93 317.40L1607.83 319.01L1607.74 320.62L1607.65 322.23L1607.56 323.84L1607.49 325.45L1607.41 327.06L1607.34 328.67L1607.28 330.28L1607.22 331.89L1607.16 333.50L1607.11 335.11L1607.06 336.72L1607.01 338.33L1606.96 339.94L1606.92 341.55L1606.88 343.16L1606.85 344.77L1606.81 346.38L1606.78 347.99L1606.75 349.60L1606.72 351.21L1606.69 352.82L1606.67 354.43L1606.65 356.04L1606.62 357.65L1606.60 359.26L1606.58 360.87L1606.57 362.48L1606.55 364.09L1606.53 365.70L1606.52 367.31L1606.51 368.92L1606.49 370.53L1606.48 372.14L1606.47 373.75L1606.46 375.36L1606.45 376.97L1606.44 378.58L1606.43 380.19L1606.42 381.80L1606.41 383.41L1606.41 385.02L1606.40 386.63L1606.39 388.24L1606.39 389.85L1606.38 391.46L1606.38 393.07L1606.37 394.68L1606.37 396.29L1606.36 397.90L1606.36 399.51L1606.36 401.12L1606.35 402.73L1606.35 404.34L1606.35 405.95L1606.34 407.56L1606.34 409.17L1606.34 410.78L1606.34 412.39L1606.33 414.00L1606.33 415.61L1606.33 417.22L1606.33 418.83L1606.33 420.44L1606.32 422.05L1606.32 423.66L1606.32 425.27L1606.32 426.88L1606.32 428.49L1606.32 430.10L1606.32 431.71L1606.31 433.32L1606.31 434.93L1606.31 436.54L1606.31 438.15L1606.31 439.76L1606.31 441.37L1606.31 442.98L1606.31 444.59L1606.31 446.20L1606.31 447.81L1606.31 449.42L1606.31 451.03L1606.31 452.64L1606.31 454.25L1606.31 455.86L1606.31 457.47L1606.31 459.08L1606.30 460.69L1606.30 462.30L1606.30 463.91L1606.30 465.52L1606.30 467.13L1606.30 468.74L1606.30 470.35L1606.30 471.96L1606.30 473.57L1606.30 475.18L1606.30 476.79L1606.30 478.40L1606.30 480.01L1606.30 481.62L1606.30 483.23L1606.30 484.84L1606.30 486.45L1606.30 488.06L1606.30 489.67L1606.30 491.28L1606.30 492.89L1606.30 494.50" stroke="#f06623" stroke-width="7" fill="none" stroke-linecap="round" stroke-linejoin="round"/><path d="M134.5 172.5L136 175.72L137.5 182.16L138.5 188.6L136.5 195.04L134.5 201.48L135.5 207.92L203 217.58L295.4 230.46L334.2 243.34L357.3 256.22L409.8 275.54L319.6 301.3L273.6 327.06L207 352.82L199.2 378.58L342.3 404.34" stroke="#6166b1" stroke-width="4.1" fill="none" stroke-linejoin="round" stroke-linecap="round"/><g fill="#6166b1"><circle cx="134.5" cy="172.5" r="4.8"/><circle cx="136" cy="175.72" r="4.8"/><circle cx="137.5" cy="182.16" r="4.8"/><circle cx="138.5" cy="188.6" r="4.8"/><circle cx="136.5" cy="195.04" r="4.8"/><circle cx="134.5" cy="201.48" r="4.8"/><circle cx="135.5" cy="207.92" r="4.8"/><circle cx="203" cy="217.58" r="4.8"/><circle cx="295.4" cy="230.46" r="4.8"/><circle cx="334.2" cy="243.34" r="4.8"/><circle cx="357.3" cy="256.22" r="4.8"/><circle cx="409.8" cy="275.54" r="4.8"/><circle cx="319.6" cy="301.3" r="4.8"/><circle cx="273.6" cy="327.06" r="4.8"/><circle cx="207" cy="352.82" r="4.8"/><circle cx="199.2" cy="378.58" r="4.8"/><circle cx="342.3" cy="404.34" r="4.8"/></g><path d="M504 172.5L503.6 175.72L503.4 182.16L503.8 188.6L504.5 195.04L503.5 201.48L505 207.92L506.3 217.58L596.2 230.46L611.4 243.34L602.7 256.22L585 275.54L584.1 301.3L558.1 327.06L544.8 352.82L529.4 378.58L533.1 404.34" stroke="#6166b1" stroke-width="4.1" fill="none" stroke-linejoin="round" stroke-linecap="round"/><g fill="#6166b1"><circle cx="504" cy="172.5" r="4.8"/><circle cx="503.6" cy="175.72" r="4.8"/><circle cx="503.4" cy="182.16" r="4.8"/><circle cx="503.8" cy="188.6" r="4.8"/><circle cx="504.5" cy="195.04" r="4.8"/><circle cx="503.5" cy="201.48" r="4.8"/><circle cx="505" cy="207.92" r="4.8"/><circle cx="506.3" cy="217.58" r="4.8"/><circle cx="596.2" cy="230.46" r="4.8"/><circle cx="611.4" cy="243.34" r="4.8"/><circle cx="602.7" cy="256.22" r="4.8"/><circle cx="585" cy="275.54" r="4.8"/><circle cx="584.1" cy="301.3" r="4.8"/><circle cx="558.1" cy="327.06" r="4.8"/><circle cx="544.8" cy="352.82" r="4.8"/><circle cx="529.4" cy="378.58" r="4.8"/><circle cx="533.1" cy="404.34" r="4.8"/></g><path d="M870.5 172.5L872.5 175.72L874.3 182.16L869.8 188.6L870.6 195.04L870.3 201.48L871.4 207.92L945.4 217.58L994 230.46L985.7 243.34L1017.8 256.22L1007.9 275.54L977.3 301.3L956 327.06L892.5 352.82L905.5 378.58L899 404.34" stroke="#6166b1" stroke-width="4.1" fill="none" stroke-linejoin="round" stroke-linecap="round"/><g fill="#6166b1"><circle cx="870.5" cy="172.5" r="4.8"/><circle cx="872.5" cy="175.72" r="4.8"/><circle cx="874.3" cy="182.16" r="4.8"/><circle cx="869.8" cy="188.6" r="4.8"/><circle cx="870.6" cy="195.04" r="4.8"/><circle cx="870.3" cy="201.48" r="4.8"/><circle cx="871.4" cy="207.92" r="4.8"/><circle cx="945.4" cy="217.58" r="4.8"/><circle cx="994" cy="230.46" r="4.8"/><circle cx="985.7" cy="243.34" r="4.8"/><circle cx="1017.8" cy="256.22" r="4.8"/><circle cx="1007.9" cy="275.54" r="4.8"/><circle cx="977.3" cy="301.3" r="4.8"/><circle cx="956" cy="327.06" r="4.8"/><circle cx="892.5" cy="352.82" r="4.8"/><circle cx="905.5" cy="378.58" r="4.8"/><circle cx="899" cy="404.34" r="4.8"/></g><path d="M1238.3 172.5L1238.3 175.72L1238.3 182.16L1238.6 188.6L1242.9 195.04L1239.5 201.48L1238.3 207.92L1237.8 217.58L1255.9 230.46L1309.7 243.34L1324.5 256.22L1302.2 275.54L1274.9 301.3" stroke="#6166b1" stroke-width="4.1" fill="none" stroke-linejoin="round" stroke-linecap="round"/><g fill="#6166b1"><circle cx="1238.3" cy="172.5" r="4.8"/><circle cx="1238.3" cy="175.72" r="4.8"/><circle cx="1238.3" cy="182.16" r="4.8"/><circle cx="1238.6" cy="188.6" r="4.8"/><circle cx="1242.9" cy="195.04" r="4.8"/><circle cx="1239.5" cy="201.48" r="4.8"/><circle cx="1238.3" cy="207.92" r="4.8"/><circle cx="1237.8" cy="217.58" r="4.8"/><circle cx="1255.9" cy="230.46" r="4.8"/><circle cx="1309.7" cy="243.34" r="4.8"/><circle cx="1324.5" cy="256.22" r="4.8"/><circle cx="1302.2" cy="275.54" r="4.8"/><circle cx="1274.9" cy="301.3" r="4.8"/></g><path d="M1605.9 172.5L1605.9 175.72L1606 182.16L1606.3 188.6L1606.5 195.04L1606.3 201.48L1606 207.92L1606 217.58L1605.9 230.46L1606.2 243.34L1639.1 256.22L1706.6 275.54L1769.1 301.3L1783 327.06L1728 352.82L1673 378.58L1669.3 404.34L1668 430.1" stroke="#6166b1" stroke-width="4.1" fill="none" stroke-linejoin="round" stroke-linecap="round"/><g fill="#6166b1"><circle cx="1605.9" cy="172.5" r="4.8"/><circle cx="1605.9" cy="175.72" r="4.8"/><circle cx="1606" cy="182.16" r="4.8"/><circle cx="1606.3" cy="188.6" r="4.8"/><circle cx="1606.5" cy="195.04" r="4.8"/><circle cx="1606.3" cy="201.48" r="4.8"/><circle cx="1606" cy="207.92" r="4.8"/><circle cx="1606" cy="217.58" r="4.8"/><circle cx="1605.9" cy="230.46" r="4.8"/><circle cx="1606.2" cy="243.34" r="4.8"/><circle cx="1639.1" cy="256.22" r="4.8"/><circle cx="1706.6" cy="275.54" r="4.8"/><circle cx="1769.1" cy="301.3" r="4.8"/><circle cx="1783" cy="327.06" r="4.8"/><circle cx="1728" cy="352.82" r="4.8"/><circle cx="1673" cy="378.58" r="4.8"/><circle cx="1669.3" cy="404.34" r="4.8"/><circle cx="1668" cy="430.1" r="4.8"/></g><path d="M296.5 218.2L153.72 198.23" stroke="#060808" stroke-width="5.6" stroke-linecap="round" stroke-dasharray="0 10.65" fill="none"/><path d="M137.18 195.92L154.78 190.61L148.17 197.46L152.65 205.86Z" fill="#060808" stroke="#060808" stroke-width="4.2" stroke-linejoin="round"/><path d="M596.2 216.9L520.76 207.7" stroke="#060808" stroke-width="5.6" stroke-linecap="round" stroke-dasharray="0 10.65" fill="none"/><path d="M504.18 205.68L521.69 200.06L515.20 207.02L519.83 215.34Z" fill="#060808" stroke="#060808" stroke-width="4.2" stroke-linejoin="round"/><path d="M995.9 217.5L889.27 197.25" stroke="#060808" stroke-width="5.6" stroke-linecap="round" stroke-dasharray="0 10.65" fill="none"/><path d="M872.86 194.13L890.70 189.68L883.76 196.20L887.83 204.81Z" fill="#060808" stroke="#060808" stroke-width="4.2" stroke-linejoin="round"/><path d="M1313 233.2L1256.11 216.23" stroke="#060808" stroke-width="5.6" stroke-linecap="round" stroke-dasharray="0 10.65" fill="none"/><path d="M1240.10 211.46L1258.31 208.85L1250.74 214.63L1253.91 223.61Z" fill="#060808" stroke="#060808" stroke-width="4.2" stroke-linejoin="round"/><path d="M1772.8 285.6L1623.78 234.83" stroke="#060808" stroke-width="5.6" stroke-linecap="round" stroke-dasharray="0 10.65" fill="none"/><path d="M1607.98 229.44L1626.27 227.54L1618.48 233.02L1621.30 242.12Z" fill="#060808" stroke="#060808" stroke-width="4.2" stroke-linejoin="round"/><path d="M139.9 889.3L179.8 893.33L207.3 901.39L214.1 909.44L213.2 917.5L208.6 925.56L198.7 933.62L192.2 945.7L199.3 961.82L209.5 977.93L220.2 994.05L238.8 1018.22L271.3 1050.45L301.3 1082.68L314.9 1114.91L335.3 1147.14L317 1179.37L335.3 1211.6" stroke="#060808" stroke-width="4.6" fill="none" stroke-linejoin="round" stroke-linecap="round"/><g fill="#060808"><circle cx="139.9" cy="889.3" r="5.1"/><circle cx="179.8" cy="893.33" r="5.1"/><circle cx="207.3" cy="901.39" r="5.1"/><circle cx="214.1" cy="909.44" r="5.1"/><circle cx="213.2" cy="917.5" r="5.1"/><circle cx="208.6" cy="925.56" r="5.1"/><circle cx="198.7" cy="933.62" r="5.1"/><circle cx="192.2" cy="945.7" r="5.1"/><circle cx="199.3" cy="961.82" r="5.1"/><circle cx="209.5" cy="977.93" r="5.1"/><circle cx="220.2" cy="994.05" r="5.1"/><circle cx="238.8" cy="1018.22" r="5.1"/><circle cx="271.3" cy="1050.45" r="5.1"/><circle cx="301.3" cy="1082.68" r="5.1"/><circle cx="314.9" cy="1114.91" r="5.1"/><circle cx="335.3" cy="1147.14" r="5.1"/><circle cx="317" cy="1179.37" r="5.1"/><circle cx="335.3" cy="1211.6" r="5.1"/></g><path d="M507.7 889.3L560 893.33L580 901.39L581 909.44L578.2 917.5L571.1 925.56L561.5 933.62L548.9 945.7L565.6 961.82L603.2 977.93L636.6 994.05L667.6 1018.22L694.5 1050.45L705.3 1082.68L717.2 1114.91L729.2 1147.14L738.5 1179.37" stroke="#060808" stroke-width="4.6" fill="none" stroke-linejoin="round" stroke-linecap="round"/><g fill="#060808"><circle cx="507.7" cy="889.3" r="5.1"/><circle cx="560" cy="893.33" r="5.1"/><circle cx="580" cy="901.39" r="5.1"/><circle cx="581" cy="909.44" r="5.1"/><circle cx="578.2" cy="917.5" r="5.1"/><circle cx="571.1" cy="925.56" r="5.1"/><circle cx="561.5" cy="933.62" r="5.1"/><circle cx="548.9" cy="945.7" r="5.1"/><circle cx="565.6" cy="961.82" r="5.1"/><circle cx="603.2" cy="977.93" r="5.1"/><circle cx="636.6" cy="994.05" r="5.1"/><circle cx="667.6" cy="1018.22" r="5.1"/><circle cx="694.5" cy="1050.45" r="5.1"/><circle cx="705.3" cy="1082.68" r="5.1"/><circle cx="717.2" cy="1114.91" r="5.1"/><circle cx="729.2" cy="1147.14" r="5.1"/><circle cx="738.5" cy="1179.37" r="5.1"/></g><path d="M874.3 889.3L914.2 893.33L936.5 901.39L938.3 909.44L938 917.5L935.6 925.56L932.8 933.62L932.8 945.7L930.9 961.82L936.5 977.93L965.8 994.05L995.9 1018.22L1022.8 1050.45L1046.9 1082.68L1055.8 1114.91L1067.9 1147.14L1084 1179.37" stroke="#060808" stroke-width="4.6" fill="none" stroke-linejoin="round" stroke-linecap="round"/><g fill="#060808"><circle cx="874.3" cy="889.3" r="5.1"/><circle cx="914.2" cy="893.33" r="5.1"/><circle cx="936.5" cy="901.39" r="5.1"/><circle cx="938.3" cy="909.44" r="5.1"/><circle cx="938" cy="917.5" r="5.1"/><circle cx="935.6" cy="925.56" r="5.1"/><circle cx="932.8" cy="933.62" r="5.1"/><circle cx="932.8" cy="945.7" r="5.1"/><circle cx="930.9" cy="961.82" r="5.1"/><circle cx="936.5" cy="977.93" r="5.1"/><circle cx="965.8" cy="994.05" r="5.1"/><circle cx="995.9" cy="1018.22" r="5.1"/><circle cx="1022.8" cy="1050.45" r="5.1"/><circle cx="1046.9" cy="1082.68" r="5.1"/><circle cx="1055.8" cy="1114.91" r="5.1"/><circle cx="1067.9" cy="1147.14" r="5.1"/><circle cx="1084" cy="1179.37" r="5.1"/></g><path d="M1246.7 889.3L1279.6 893.33L1298.1 901.39L1303.7 909.44L1309.3 917.5L1317.3 925.56L1301.3 933.62L1293.1 945.7L1278.3 961.82L1277.7 977.93L1282.9 994.05L1298.7 1018.22L1316.9 1050.45L1302.8 1082.68L1337.7 1114.91L1366.8 1147.14L1373.3 1179.37" stroke="#060808" stroke-width="4.6" fill="none" stroke-linejoin="round" stroke-linecap="round"/><g fill="#060808"><circle cx="1246.7" cy="889.3" r="5.1"/><circle cx="1279.6" cy="893.33" r="5.1"/><circle cx="1298.1" cy="901.39" r="5.1"/><circle cx="1303.7" cy="909.44" r="5.1"/><circle cx="1309.3" cy="917.5" r="5.1"/><circle cx="1317.3" cy="925.56" r="5.1"/><circle cx="1301.3" cy="933.62" r="5.1"/><circle cx="1293.1" cy="945.7" r="5.1"/><circle cx="1278.3" cy="961.82" r="5.1"/><circle cx="1277.7" cy="977.93" r="5.1"/><circle cx="1282.9" cy="994.05" r="5.1"/><circle cx="1298.7" cy="1018.22" r="5.1"/><circle cx="1316.9" cy="1050.45" r="5.1"/><circle cx="1302.8" cy="1082.68" r="5.1"/><circle cx="1337.7" cy="1114.91" r="5.1"/><circle cx="1366.8" cy="1147.14" r="5.1"/><circle cx="1373.3" cy="1179.37" r="5.1"/></g><path d="M1615.7 889.3L1655.9 893.33L1670.8 901.39L1689 909.44L1695.8 917.5L1692.1 925.56L1685.6 933.62L1681 945.7L1675.8 961.82L1664.8 977.93L1644.8 994.05L1646.7 1018.22L1663.5 1050.45L1684.7 1082.68L1702.7 1114.91L1712.5 1147.14L1718.5 1179.37L1714.4 1211.6" stroke="#060808" stroke-width="4.6" fill="none" stroke-linejoin="round" stroke-linecap="round"/><g fill="#060808"><circle cx="1615.7" cy="889.3" r="5.1"/><circle cx="1655.9" cy="893.33" r="5.1"/><circle cx="1670.8" cy="901.39" r="5.1"/><circle cx="1689" cy="909.44" r="5.1"/><circle cx="1695.8" cy="917.5" r="5.1"/><circle cx="1692.1" cy="925.56" r="5.1"/><circle cx="1685.6" cy="933.62" r="5.1"/><circle cx="1681" cy="945.7" r="5.1"/><circle cx="1675.8" cy="961.82" r="5.1"/><circle cx="1664.8" cy="977.93" r="5.1"/><circle cx="1644.8" cy="994.05" r="5.1"/><circle cx="1646.7" cy="1018.22" r="5.1"/><circle cx="1663.5" cy="1050.45" r="5.1"/><circle cx="1684.7" cy="1082.68" r="5.1"/><circle cx="1702.7" cy="1114.91" r="5.1"/><circle cx="1712.5" cy="1147.14" r="5.1"/><circle cx="1718.5" cy="1179.37" r="5.1"/><circle cx="1714.4" cy="1211.6" r="5.1"/></g><path d="M239.2 889.3L245.7 893.33L246.6 901.39L245.7 909.44L245.7 917.5L245.7 925.56L245.7 933.62L246.6 945.7L246.6 961.82L247 977.93L247 994.05L246.6 1018.22L247.7 1050.45L248.4 1082.68L248.5 1114.91L247.1 1147.14L251.8 1179.37" stroke="#f396c1" stroke-width="4.8" fill="none" stroke-linejoin="round" stroke-linecap="round"/><g fill="#f396c1"><circle cx="239.2" cy="889.3" r="5.1"/><circle cx="245.7" cy="893.33" r="5.1"/><circle cx="246.6" cy="901.39" r="5.1"/><circle cx="245.7" cy="909.44" r="5.1"/><circle cx="245.7" cy="917.5" r="5.1"/><circle cx="245.7" cy="925.56" r="5.1"/><circle cx="245.7" cy="933.62" r="5.1"/><circle cx="246.6" cy="945.7" r="5.1"/><circle cx="246.6" cy="961.82" r="5.1"/><circle cx="247" cy="977.93" r="5.1"/><circle cx="247" cy="994.05" r="5.1"/><circle cx="246.6" cy="1018.22" r="5.1"/><circle cx="247.7" cy="1050.45" r="5.1"/><circle cx="248.4" cy="1082.68" r="5.1"/><circle cx="248.5" cy="1114.91" r="5.1"/><circle cx="247.1" cy="1147.14" r="5.1"/><circle cx="251.8" cy="1179.37" r="5.1"/></g><path d="M396.9 889.3L418.2 893.33L421 901.39L412.7 909.44L407.7 917.5L405.8 925.56L404.3 933.62L404.3 945.7L404.3 961.82L404.3 977.93L401.5 994.05L401 1018.22L403.6 1050.45L406.2 1082.68L403.6 1114.91L403.6 1147.14L412.1 1179.37" stroke="#84449b" stroke-width="4.8" fill="none" stroke-linejoin="round" stroke-linecap="round"/><g fill="#84449b"><circle cx="396.9" cy="889.3" r="5.2"/><circle cx="418.2" cy="893.33" r="5.2"/><circle cx="421" cy="901.39" r="5.2"/><circle cx="412.7" cy="909.44" r="5.2"/><circle cx="407.7" cy="917.5" r="5.2"/><circle cx="405.8" cy="925.56" r="5.2"/><circle cx="404.3" cy="933.62" r="5.2"/><circle cx="404.3" cy="945.7" r="5.2"/><circle cx="404.3" cy="961.82" r="5.2"/><circle cx="404.3" cy="977.93" r="5.2"/><circle cx="401.5" cy="994.05" r="5.2"/><circle cx="401" cy="1018.22" r="5.2"/><circle cx="403.6" cy="1050.45" r="5.2"/><circle cx="406.2" cy="1082.68" r="5.2"/><circle cx="403.6" cy="1114.91" r="5.2"/><circle cx="403.6" cy="1147.14" r="5.2"/><circle cx="412.1" cy="1179.37" r="5.2"/></g><path d="M608.2 889.3L612.5 893.33L612 901.39L612 909.44L612 917.5L612 925.56L612 933.62L613.3 945.7L613.3 961.82L613.8 977.93L613.8 994.05L613.8 1018.22L613.8 1050.45L615.3 1082.68L614.4 1114.91L613.8 1147.14L617 1179.37" stroke="#f396c1" stroke-width="4.8" fill="none" stroke-linejoin="round" stroke-linecap="round"/><g fill="#f396c1"><circle cx="608.2" cy="889.3" r="5.1"/><circle cx="612.5" cy="893.33" r="5.1"/><circle cx="612" cy="901.39" r="5.1"/><circle cx="612" cy="909.44" r="5.1"/><circle cx="612" cy="917.5" r="5.1"/><circle cx="612" cy="925.56" r="5.1"/><circle cx="612" cy="933.62" r="5.1"/><circle cx="613.3" cy="945.7" r="5.1"/><circle cx="613.3" cy="961.82" r="5.1"/><circle cx="613.8" cy="977.93" r="5.1"/><circle cx="613.8" cy="994.05" r="5.1"/><circle cx="613.8" cy="1018.22" r="5.1"/><circle cx="613.8" cy="1050.45" r="5.1"/><circle cx="615.3" cy="1082.68" r="5.1"/><circle cx="614.4" cy="1114.91" r="5.1"/><circle cx="613.8" cy="1147.14" r="5.1"/><circle cx="617" cy="1179.37" r="5.1"/></g><path d="M760.4 889.3L766.9 893.33L765 901.39L766 909.44L765 917.5L767.8 925.56L766.5 933.62L766.3 945.7L764.5 961.82L761.3 977.93L762.3 994.05L761 1018.22L759.5 1050.45L764.5 1082.68L758.9 1114.91L756.7 1147.14L758.9 1179.37" stroke="#84449b" stroke-width="4.8" fill="none" stroke-linejoin="round" stroke-linecap="round"/><g fill="#84449b"><circle cx="760.4" cy="889.3" r="5.2"/><circle cx="766.9" cy="893.33" r="5.2"/><circle cx="765" cy="901.39" r="5.2"/><circle cx="766" cy="909.44" r="5.2"/><circle cx="765" cy="917.5" r="5.2"/><circle cx="767.8" cy="925.56" r="5.2"/><circle cx="766.5" cy="933.62" r="5.2"/><circle cx="766.3" cy="945.7" r="5.2"/><circle cx="764.5" cy="961.82" r="5.2"/><circle cx="761.3" cy="977.93" r="5.2"/><circle cx="762.3" cy="994.05" r="5.2"/><circle cx="761" cy="1018.22" r="5.2"/><circle cx="759.5" cy="1050.45" r="5.2"/><circle cx="764.5" cy="1082.68" r="5.2"/><circle cx="758.9" cy="1114.91" r="5.2"/><circle cx="756.7" cy="1147.14" r="5.2"/><circle cx="758.9" cy="1179.37" r="5.2"/></g><path d="M931.9 889.3L936.5 893.33L936.1 901.39L935.6 909.44L936.5 917.5L936.9 925.56L937.8 933.62L938.7 945.7L940.2 961.82L940.8 977.93L940.8 994.05L941.1 1018.22L942.4 1050.45L942.4 1082.68L944.5 1114.91L942.6 1147.14L943 1179.37" stroke="#f396c1" stroke-width="4.8" fill="none" stroke-linejoin="round" stroke-linecap="round"/><g fill="#f396c1"><circle cx="931.9" cy="889.3" r="5.1"/><circle cx="936.5" cy="893.33" r="5.1"/><circle cx="936.1" cy="901.39" r="5.1"/><circle cx="935.6" cy="909.44" r="5.1"/><circle cx="936.5" cy="917.5" r="5.1"/><circle cx="936.9" cy="925.56" r="5.1"/><circle cx="937.8" cy="933.62" r="5.1"/><circle cx="938.7" cy="945.7" r="5.1"/><circle cx="940.2" cy="961.82" r="5.1"/><circle cx="940.8" cy="977.93" r="5.1"/><circle cx="940.8" cy="994.05" r="5.1"/><circle cx="941.1" cy="1018.22" r="5.1"/><circle cx="942.4" cy="1050.45" r="5.1"/><circle cx="942.4" cy="1082.68" r="5.1"/><circle cx="944.5" cy="1114.91" r="5.1"/><circle cx="942.6" cy="1147.14" r="5.1"/><circle cx="943" cy="1179.37" r="5.1"/></g><path d="M1021.9 889.3L1033 893.33L1033.9 901.39L1029.3 909.44L1028.3 917.5L1027.4 925.56L1027 933.62L1027 945.7L1027 961.82L1027.4 977.93L1026.1 994.05L1026.1 1018.22L1024.6 1050.45L1026.1 1082.68L1025.6 1114.91L1023.7 1147.14L1023.2 1179.37" stroke="#84449b" stroke-width="4.8" fill="none" stroke-linejoin="round" stroke-linecap="round"/><g fill="#84449b"><circle cx="1021.9" cy="889.3" r="5.2"/><circle cx="1033" cy="893.33" r="5.2"/><circle cx="1033.9" cy="901.39" r="5.2"/><circle cx="1029.3" cy="909.44" r="5.2"/><circle cx="1028.3" cy="917.5" r="5.2"/><circle cx="1027.4" cy="925.56" r="5.2"/><circle cx="1027" cy="933.62" r="5.2"/><circle cx="1027" cy="945.7" r="5.2"/><circle cx="1027" cy="961.82" r="5.2"/><circle cx="1027.4" cy="977.93" r="5.2"/><circle cx="1026.1" cy="994.05" r="5.2"/><circle cx="1026.1" cy="1018.22" r="5.2"/><circle cx="1024.6" cy="1050.45" r="5.2"/><circle cx="1026.1" cy="1082.68" r="5.2"/><circle cx="1025.6" cy="1114.91" r="5.2"/><circle cx="1023.7" cy="1147.14" r="5.2"/><circle cx="1023.2" cy="1179.37" r="5.2"/></g><path d="M1317.6 889.3L1320.4 893.33L1320 901.39L1319.9 909.44L1319.5 917.5L1322.3 925.56L1321 933.62L1322.6 945.7L1321.9 961.82L1323.2 977.93L1323.8 994.05L1325.4 1018.22L1326.7 1050.45" stroke="#f396c1" stroke-width="4.8" fill="none" stroke-linejoin="round" stroke-linecap="round"/><g fill="#f396c1"><circle cx="1317.6" cy="889.3" r="5.1"/><circle cx="1320.4" cy="893.33" r="5.1"/><circle cx="1320" cy="901.39" r="5.1"/><circle cx="1319.9" cy="909.44" r="5.1"/><circle cx="1319.5" cy="917.5" r="5.1"/><circle cx="1322.3" cy="925.56" r="5.1"/><circle cx="1321" cy="933.62" r="5.1"/><circle cx="1322.6" cy="945.7" r="5.1"/><circle cx="1321.9" cy="961.82" r="5.1"/><circle cx="1323.2" cy="977.93" r="5.1"/><circle cx="1323.8" cy="994.05" r="5.1"/><circle cx="1325.4" cy="1018.22" r="5.1"/><circle cx="1326.7" cy="1050.45" r="5.1"/></g><path d="M1432.1 889.3L1477.2 893.33L1487.4 901.39L1441.6 909.44L1435.5 917.5L1436 925.56L1430.8 933.62L1431.7 945.7L1429.9 961.82L1432.7 977.93L1432.1 994.05L1435.1 1018.22L1434.3 1050.45" stroke="#84449b" stroke-width="4.8" fill="none" stroke-linejoin="round" stroke-linecap="round"/><g fill="#84449b"><circle cx="1432.1" cy="889.3" r="5.2"/><circle cx="1477.2" cy="893.33" r="5.2"/><circle cx="1487.4" cy="901.39" r="5.2"/><circle cx="1441.6" cy="909.44" r="5.2"/><circle cx="1435.5" cy="917.5" r="5.2"/><circle cx="1436" cy="925.56" r="5.2"/><circle cx="1430.8" cy="933.62" r="5.2"/><circle cx="1431.7" cy="945.7" r="5.2"/><circle cx="1429.9" cy="961.82" r="5.2"/><circle cx="1432.7" cy="977.93" r="5.2"/><circle cx="1432.1" cy="994.05" r="5.2"/><circle cx="1435.1" cy="1018.22" r="5.2"/><circle cx="1434.3" cy="1050.45" r="5.2"/></g><path d="M1685.6 889.3L1687.5 893.33L1687.5 901.39L1687.5 909.44L1687.5 917.5L1687.5 925.56L1687.9 933.62L1688 945.7L1688 961.82L1688.4 977.93L1690.3 994.05L1690.3 1018.22L1690.8 1050.45L1690.8 1082.68L1690.3 1114.91L1692.1 1147.14L1693.4 1179.37L1694 1211.6" stroke="#f396c1" stroke-width="4.8" fill="none" stroke-linejoin="round" stroke-linecap="round"/><g fill="#f396c1"><circle cx="1685.6" cy="889.3" r="5.1"/><circle cx="1687.5" cy="893.33" r="5.1"/><circle cx="1687.5" cy="901.39" r="5.1"/><circle cx="1687.5" cy="909.44" r="5.1"/><circle cx="1687.5" cy="917.5" r="5.1"/><circle cx="1687.5" cy="925.56" r="5.1"/><circle cx="1687.9" cy="933.62" r="5.1"/><circle cx="1688" cy="945.7" r="5.1"/><circle cx="1688" cy="961.82" r="5.1"/><circle cx="1688.4" cy="977.93" r="5.1"/><circle cx="1690.3" cy="994.05" r="5.1"/><circle cx="1690.3" cy="1018.22" r="5.1"/><circle cx="1690.8" cy="1050.45" r="5.1"/><circle cx="1690.8" cy="1082.68" r="5.1"/><circle cx="1690.3" cy="1114.91" r="5.1"/><circle cx="1692.1" cy="1147.14" r="5.1"/><circle cx="1693.4" cy="1179.37" r="5.1"/><circle cx="1694" cy="1211.6" r="5.1"/></g><path d="M1799.4 889.3L1853.6 893.33L1863.2 901.39L1877.1 909.44L1843 917.5L1806.2 925.56L1807.7 933.62L1806.2 945.7L1802.2 961.82L1803.5 977.93L1800.3 994.05L1799.2 1018.22L1798.8 1050.45L1800.7 1082.68L1801.6 1114.91L1804.8 1147.14L1806.2 1179.37L1807.7 1211.6" stroke="#84449b" stroke-width="4.8" fill="none" stroke-linejoin="round" stroke-linecap="round"/><g fill="#84449b"><circle cx="1799.4" cy="889.3" r="5.2"/><circle cx="1853.6" cy="893.33" r="5.2"/><circle cx="1863.2" cy="901.39" r="5.2"/><circle cx="1877.1" cy="909.44" r="5.2"/><circle cx="1843" cy="917.5" r="5.2"/><circle cx="1806.2" cy="925.56" r="5.2"/><circle cx="1807.7" cy="933.62" r="5.2"/><circle cx="1806.2" cy="945.7" r="5.2"/><circle cx="1802.2" cy="961.82" r="5.2"/><circle cx="1803.5" cy="977.93" r="5.2"/><circle cx="1800.3" cy="994.05" r="5.2"/><circle cx="1799.2" cy="1018.22" r="5.2"/><circle cx="1798.8" cy="1050.45" r="5.2"/><circle cx="1800.7" cy="1082.68" r="5.2"/><circle cx="1801.6" cy="1114.91" r="5.2"/><circle cx="1804.8" cy="1147.14" r="5.2"/><circle cx="1806.2" cy="1179.37" r="5.2"/><circle cx="1807.7" cy="1211.6" r="5.2"/></g><text transform="translate(287.25 1472) scale(1 1.05)" font-size="34" text-anchor="middle">MUC5</text><text transform="translate(287.25 1509.8) scale(1 1.05)" font-size="34" text-anchor="middle">434m</text><text transform="translate(655.55 1472) scale(1 1.05)" font-size="34" text-anchor="middle">MUC8</text><text transform="translate(655.55 1509.8) scale(1 1.05)" font-size="34" text-anchor="middle">490m</text><text transform="translate(1023.45 1468.8) scale(1 1.05)" font-size="34" text-anchor="middle">MUC2</text><text transform="translate(1023.45 1506.6) scale(1 1.05)" font-size="34" text-anchor="middle">500m</text><text transform="translate(1391.35 1472) scale(1 1.05)" font-size="34" text-anchor="middle">MUC9</text><text transform="translate(1391.35 1509.8) scale(1 1.05)" font-size="34" text-anchor="middle">604m</text><text transform="translate(1759.15 1472) scale(1 1.05)" font-size="34" text-anchor="middle">MUC7</text><text transform="translate(1759.15 1509.8) scale(1 1.05)" font-size="34" text-anchor="middle">677m</text></svg></body></html>
